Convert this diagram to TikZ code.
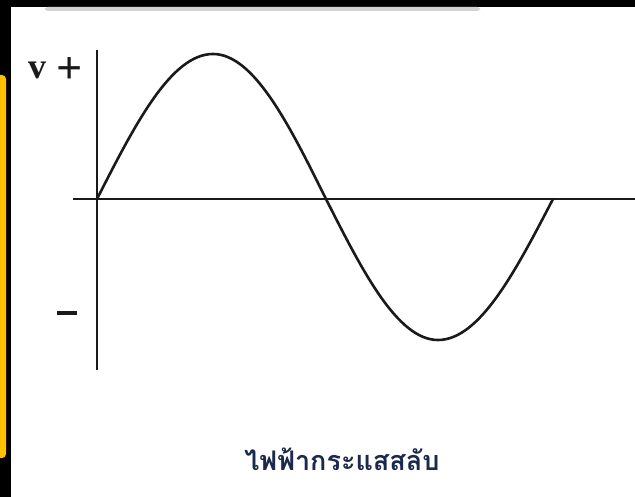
\documentclass[tikz,border=0pt]{standalone}
\usepackage{fontspec}
\usepackage{xcolor}
\usepackage{tikz}
\usetikzlibrary{
  positioning,
  calc,
  backgrounds
}
\newfontfamily\thaifont[Script=Thai]{Loma}
\newfontfamily\labelfont{Liberation Serif}
\definecolor{acFrame}{HTML}{000000}
\definecolor{acTab}{HTML}{FFC000}
\definecolor{acShade}{HTML}{D2D2D2}
\definecolor{acInk}{HTML}{1A1A1A}
\definecolor{acTitle}{HTML}{1B2A4C}
\tikzset{
  acaxis/.style={line width=2.4pt, acInk},
  acwave/.style={line width=2.6pt, acInk, line cap=round},
  aclabel/.style={font=\labelfont\bfseries\fontsize{36}{36}\selectfont, text=acInk, inner sep=0pt},
  acsign/.style={font=\labelfont\bfseries\fontsize{46}{46}\selectfont, text=acInk, inner sep=0pt},
  actitle/.style={font=\thaifont\bfseries\fontsize{27}{27}\selectfont, text=acTitle, inner sep=0pt}
}

\begin{document}
\begin{tikzpicture}[x=1pt, y=-1pt]
  \useasboundingbox (0,0) rectangle (635,497);
  % frame of the slide
  \fill[acFrame] (0,0) rectangle (635,497);
  \fill[white] (11,7) rectangle (635,497);
  \fill[acShade, rounded corners=3pt] (45,7) rectangle (480,11);
  \fill[acTab, rounded corners=4pt] (-6,75) rectangle (6,458);
  % axes
  \coordinate (o) at (97,199);
  \coordinate (ytop) at (97,50);
  \coordinate (ybot) at (97,370);
  \coordinate (xl) at (73,199);
  \coordinate (xr) at (635,199);
  \draw[acaxis] (ytop) -- (ybot);
  \draw[acaxis] (xl) -- (xr);
  % one period
  \draw[acwave] (o) sin (213,54) cos (326,199) sin (438,340) cos (553,199);
  % labels
  \node[aclabel] (v) at (37,70) {v};
  \node[acsign] (plus) at (70,71) {+};
  \node[acsign] (minus) at (67,313) {\rule{20pt}{3.5pt}};
  \node[actitle, anchor=base] (title) at (342,470) {ไฟฟ้ากระแสสลับ};
\end{tikzpicture}
\end{document}
